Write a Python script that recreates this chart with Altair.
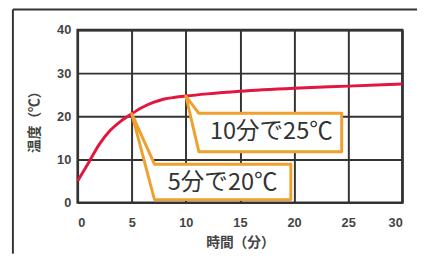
import altair as alt
import pandas as pd

# Curve data (minutes, temperature)
minutes = [0, 1, 2, 3, 4, 5, 6, 7, 8, 9, 10, 12, 15, 20, 25, 30]
temps = [5, 9.2, 13.5, 16.7, 18.9, 20.6, 22.1, 23.2, 24.0, 24.4, 24.7, 25.2, 25.8, 26.5, 27.0, 27.5]

x_ticks = [0, 5, 10, 15, 20, 25, 30]
y_ticks = [0, 10, 20, 30, 40]

# Callouts
callout_labels = ["10分で25℃", "5分で20℃"]
callout_tip_x = [10, 5]
callout_tip_y = [24.7, 20.6]
callout_box_x0 = [11.2, 7.1]
callout_box_x1 = [24.4, 19.7]
callout_box_top = [20.7, 8.9]
callout_box_bottom = [11.8, 0.7]
callout_text_x = [17.9, 13.4]
callout_text_y = [16.3, 4.6]

curve_df = pd.DataFrame({"t": minutes, "temp": temps})

poly_rows = []
for i, lab in enumerate(callout_labels):
    pts = [
        (callout_tip_x[i], callout_tip_y[i]),
        (callout_box_x0[i], callout_box_top[i]),
        (callout_box_x1[i], callout_box_top[i]),
        (callout_box_x1[i], callout_box_bottom[i]),
        (callout_box_x0[i], callout_box_bottom[i]),
    ]
    for k, (px, py) in enumerate(pts):
        poly_rows.append({"id": lab, "k": k, "t": px, "temp": py})
poly_df = pd.DataFrame(poly_rows)

text_df = pd.DataFrame({"label": callout_labels, "t": callout_text_x, "temp": callout_text_y})

xscale = alt.Scale(domain=[0, 30], nice=False)
yscale = alt.Scale(domain=[0, 40], nice=False)

x_axis = alt.Axis(
    values=x_ticks, title="時間（分）", grid=True, ticks=False, domain=False,
    labelPadding=14, labelBaseline="top",
    titleX=165.5, titleY=41, titleBaseline="middle", titleAlign="center",
)
y_axis = alt.Axis(
    values=y_ticks, title="温度（℃）", grid=True, ticks=False, domain=False,
    labelPadding=7,
    titleAngle=-90, titleX=-44, titleY=90, titleBaseline="middle", titleAlign="center",
)

curve = alt.Chart(curve_df).mark_line(
    color="#e2163f", strokeWidth=3, interpolate="monotone"
).encode(
    x=alt.X("t:Q", scale=xscale, axis=x_axis),
    y=alt.Y("temp:Q", scale=yscale, axis=y_axis),
)

callouts = alt.Chart(poly_df).mark_line(
    interpolate="linear-closed", fill="white", stroke="#f0a02c",
    strokeWidth=3, strokeJoin="round"
).encode(
    x=alt.X("t:Q", scale=xscale),
    y=alt.Y("temp:Q", scale=yscale),
    detail="id:N",
    order="k:Q",
)

texts = alt.Chart(text_df).mark_text(
    font="Noto Sans CJK JP", fontSize=24, color="#333333", align="center", baseline="middle"
).encode(
    x=alt.X("t:Q", scale=xscale),
    y=alt.Y("temp:Q", scale=yscale),
    text="label:N",
)

frame_top = alt.Chart(pd.DataFrame({"a": [0]})).mark_rule(color="#333333", strokeWidth=2).encode(
    x=alt.value(-66), x2=alt.value(346), y=alt.value(-21)
)
frame_left = alt.Chart(pd.DataFrame({"a": [0]})).mark_rule(color="#333333", strokeWidth=2).encode(
    x=alt.value(-66), y=alt.value(-21), y2=alt.value(228)
)

chart = alt.layer(frame_top, frame_left, curve, callouts, texts).properties(
    width=331, height=176,
    autosize=alt.AutoSizeParams(type="none"),
    padding={"left": 71, "top": 20, "right": 15, "bottom": 52},
    background="white",
).configure_view(
    stroke="#333333", strokeWidth=2.5
).configure_axis(
    gridColor="#333333", gridWidth=2, gridOpacity=1,
    labelFont="Liberation Sans", labelFontSize=13, labelFontWeight="bold", labelColor="#444444",
    titleFont="Noto Sans CJK JP", titleFontSize=14, titleFontWeight="bold", titleColor="#444444",
)

chart.save("out.html", embed_options={"renderer": "svg", "actions": False})
